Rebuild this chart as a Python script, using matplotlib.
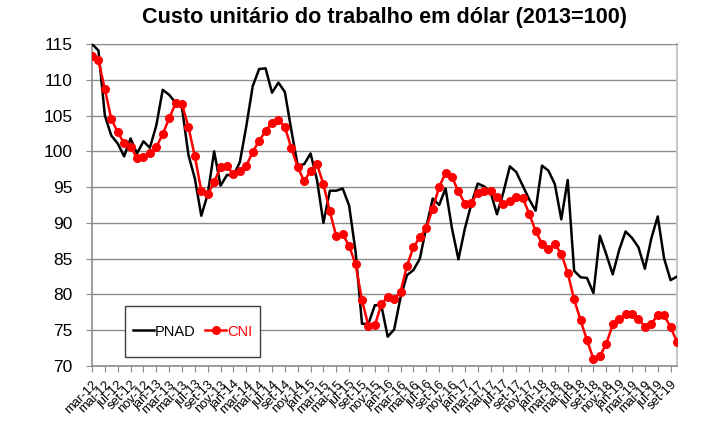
import matplotlib
matplotlib.use("Agg")
import matplotlib.pyplot as plt
from matplotlib.patches import Rectangle

plt.rcParams['font.family'] = ['Liberation Sans', 'DejaVu Sans']

months_pt = ['jan', 'fev', 'mar', 'abr', 'mai', 'jun', 'jul', 'ago', 'set', 'out', 'nov', 'dez']
# monthly data mar-12 .. out-19
periods = []
y, m = 2012, 2
while (y, m) <= (2019, 9):
    periods.append(f"{months_pt[m]}-{str(y)[2:]}")
    m += 1
    if m == 12:
        m = 0
        y += 1

pnad = [115.0, 114.1, 105.0, 102.2, 101.1, 99.3, 101.8, 99.7, 101.4, 100.5,
        103.6, 108.6, 107.9, 106.8, 106.1, 99.5, 96.2, 91.0, 94.0, 100.0,
        95.2, 96.7, 96.6, 98.5, 103.5, 109.1, 111.5, 111.6, 108.2, 109.6,
        108.3, 103.0, 98.0, 98.2, 99.7, 96.0, 90.0, 94.5, 94.5, 94.8,
        92.4, 86.0, 75.9, 75.9, 78.5, 78.5, 74.1, 75.1, 79.6, 82.7,
        83.4, 85.0, 89.4, 93.4, 92.5, 94.8, 89.2, 84.9, 89.2, 92.6,
        95.5, 95.1, 94.3, 91.2, 94.3, 97.9, 97.1, 95.2, 93.3, 91.7,
        98.0, 97.3, 95.4, 90.5, 96.0, 83.3, 82.4, 82.3, 80.2, 88.2,
        85.6, 82.8, 86.2, 88.8, 87.9, 86.6, 83.6, 87.8, 90.9, 85.0,
        82.0, 82.5]

cni = [113.3, 112.7, 108.7, 104.5, 102.7, 101.1, 100.6, 99.1, 99.2, 99.8,
       100.6, 102.4, 104.6, 106.7, 106.6, 103.4, 99.3, 94.5, 94.0, 95.7,
       97.8, 97.9, 96.8, 97.2, 98.0, 99.9, 101.5, 102.8, 104.0, 104.4,
       103.4, 100.5, 97.8, 95.8, 97.3, 98.2, 95.4, 91.6, 88.1, 88.4,
       86.8, 84.2, 79.2, 75.6, 75.7, 78.6, 79.7, 79.3, 80.4, 84.0,
       86.6, 88.0, 89.3, 92.0, 95.0, 97.0, 96.4, 94.4, 92.7, 92.8,
       94.2, 94.5, 94.5, 93.6, 92.7, 93.1, 93.6, 93.5, 91.3, 88.9,
       87.1, 86.4, 87.0, 85.7, 83.0, 79.3, 76.4, 73.6, 71.0, 71.4,
       73.1, 75.8, 76.5, 77.3, 77.3, 76.6, 75.5, 75.9, 77.1, 77.1,
       75.4, 73.4]

title = "Custo unitário do trabalho em dólar (2013=100)"
yticks = [70, 75, 80, 85, 90, 95, 100, 105, 110, 115]

fig = plt.figure(figsize=(7.17, 4.42), dpi=100)
ax = fig.add_axes([92/717, 76/442, 585/717, 322/442])

x = list(range(len(periods)))
ax.plot(x, pnad, color='black', lw=1.8, label='PNAD', zorder=3)
ax.plot(x, cni, color='#ff0000', lw=1.8, marker='o', ms=5.5, label='CNI', zorder=4)

ax.set_xlim(0, len(periods) - 1)
ax.set_ylim(70, 115)
ax.set_yticks(yticks)
ax.set_yticklabels([str(v) for v in yticks], fontsize=12.5)
ax.yaxis.grid(True, color='#8c8c8c', lw=1.0)
ax.set_axisbelow(True)

xt = x[::2]
ax.set_xticks(xt)
ax.set_xticklabels(periods[::2], rotation=45, ha='right', rotation_mode='anchor', fontsize=9.3)
ax.tick_params(axis='x', length=4, color='#8c8c8c', pad=5)
ax.tick_params(axis='y', length=4, color='#8c8c8c', pad=10)

for s in ['left', 'bottom']:
    ax.spines[s].set_color('#8c8c8c')
    ax.spines[s].set_linewidth(1.2)
ax.spines['right'].set_color('#c8c8c8')
ax.spines['right'].set_linewidth(1.5)
ax.spines['top'].set_color('#8c8c8c')

fig.text(385/717, 1 - 18/442, title, ha='center', va='center', fontsize=15.6, fontweight='bold')

# legend box
ax.add_patch(Rectangle((33/585, 9/322), 135/585, 51/322, transform=ax.transAxes,
                       facecolor='white', edgecolor='#404040', lw=1.0, zorder=5))
leg = ax.legend(loc='center', bbox_to_anchor=(100.5/585, 34.5/322),
                ncol=2, fontsize=10.5, frameon=False, borderpad=0,
                handlelength=1.45, handletextpad=0.05, columnspacing=0.7, borderaxespad=0)
leg.set_zorder(6)
for txt, c in zip(leg.get_texts(), ['black', '#ff0000']):
    txt.set_color(c)

fig.savefig('out.png', dpi=100)
